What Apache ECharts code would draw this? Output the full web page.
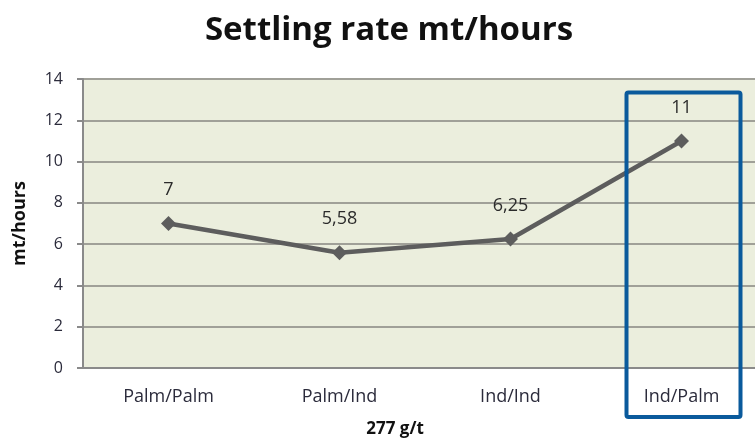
<!DOCTYPE html>
<html><head><meta charset="utf-8">
<script src="https://cdn.jsdelivr.net/npm/echarts@6/dist/echarts.min.js"></script>
<style>html,body{margin:0;padding:0;background:#fff}#c{width:755px;height:439px}</style>
</head><body><div id="c"></div>
<script>
const categories = ["Palm/Palm", "Palm/Ind", "Ind/Ind", "Ind/Palm"];
const settlingRate = [7, 5.58, 6.25, 11];
const yTicks = [0, 2, 4, 6, 8, 10, 12, 14];
const highlighted = "Ind/Palm";

const chart = echarts.init(document.getElementById('c'));
const font = "'Open Sans', 'Noto Sans', sans-serif";
chart.setOption({
  animation: false,
  backgroundColor: '#fff',
  title: {
    text: 'Settling rate mt/hours', left: 384, top: 9, textAlign: 'center',
    textStyle: { fontFamily: font, fontWeight: 'bold', fontSize: 33, color: '#111' }
  },
  grid: {
    left: 83, top: 79, width: 684, height: 289, show: true,
    backgroundColor: '#ebeedd', borderWidth: 0,
    outerBoundsMode: 'none', containLabel: false
  },
  xAxis: {
    type: 'category', data: categories, boundaryGap: true,
    name: '277 g/t', nameLocation: 'middle', nameGap: 53,
    nameTextStyle: { fontFamily: font, fontWeight: 'bold', fontSize: 17, color: '#111', padding: [0, 60, 0, 0] },
    axisLine: { lineStyle: { color: '#8a8a8a', width: 2 } },
    axisTick: { show: false },
    axisLabel: { fontFamily: font, fontSize: 18, color: '#2b2b3b', margin: 20 },
    splitLine: { show: false }
  },
  yAxis: {
    type: 'value', min: yTicks[0], max: yTicks[yTicks.length - 1], interval: 2,
    name: 'mt/hours', nameLocation: 'middle', nameGap: 54, nameRotate: 90,
    nameTextStyle: { fontFamily: font, fontWeight: 'bold', fontSize: 18, color: '#111' },
    axisLine: { show: true, lineStyle: { color: '#8a8a8a', width: 2 } },
    axisTick: { show: true, length: 6, lineStyle: { color: '#8a8a8a', width: 2 } },
    axisLabel: { fontFamily: font, fontSize: 16, color: '#2b2b3b', margin: 20 },
    splitLine: { lineStyle: { color: '#a0a098', width: 2 } }
  },
  series: [{
    type: 'line', data: settlingRate,
    symbol: 'diamond', symbolSize: 15,
    lineStyle: { color: '#5d5d5d', width: 4.5 },
    itemStyle: { color: '#5d5d5d' },
    label: {
      show: true, position: 'top', distance: 17,
      fontFamily: font, fontSize: 18, color: '#2b2b2b',
      formatter: p => String(p.value).replace('.', ',')
    }
  }]
});

function drawBox() {
  const idx = categories.indexOf(highlighted);
  const cx = chart.convertToPixel({ xAxisIndex: 0 }, categories[idx]);
  const topY = chart.convertToPixel({ yAxisIndex: 0 }, 13.35);
  const w = 114;
  chart.setOption({
    graphic: [{
      type: 'rect', z: 100,
      shape: { x: cx - w / 2 + 2, y: topY, width: w, height: 417 - topY, r: 2 },
      style: { fill: 'none', stroke: '#0a5a9c', lineWidth: 4 }
    }]
  });
}
drawBox();
</script></body></html>
